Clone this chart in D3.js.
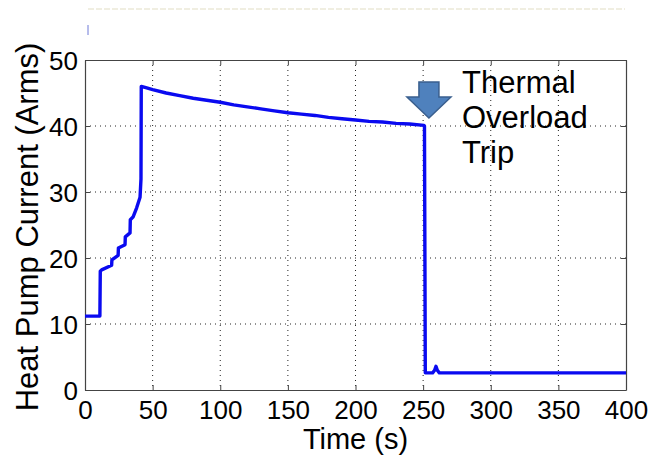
<!DOCTYPE html>
<html><head><meta charset="utf-8">
<script src="https://cdn.jsdelivr.net/npm/d3@7"></script>
<style>
body{margin:0;background:#fff;}
text{font-family:"Liberation Sans",Arial,sans-serif;fill:#000;}
</style></head>
<body><svg id="chart" width="651" height="457"></svg>
<script>
// ---- data ----
const timeS = [0, 11, 11.3, 12.3, 19.7, 19.9, 24.5, 24.7, 29.6, 29.8, 33.3, 33.5, 35.5, 38.2, 40.7, 41.4, 41.6,
  45, 50, 60, 70, 80, 90, 100, 110, 120, 130, 140, 150, 160, 170, 180, 190, 200, 210, 220, 230, 240, 250.6,
  251.0, 251.6, 257, 258.5, 259.5, 260.5, 262, 300, 350, 400];
const currentA = [11.2, 11.2, 18.0, 18.2, 18.9, 19.7, 20.4, 21.5, 22.0, 23.2, 23.8, 25.8, 26.2, 27.6, 29.2, 32.0, 46.0,
  45.8, 45.5, 45.0, 44.6, 44.2, 43.9, 43.6, 43.2, 42.9, 42.6, 42.3, 42.0, 41.8, 41.6, 41.3, 41.1, 40.9, 40.7, 40.6, 40.4, 40.3, 40.1,
  40.0, 2.6, 2.6, 3.0, 3.6, 3.0, 2.6, 2.6, 2.6, 2.6];
const xTicks = [0, 50, 100, 150, 200, 250, 300, 350, 400];
const yTicks = [0, 10, 20, 30, 40, 50];
const annotationLines = ["Thermal", "Overload", "Trip"];
const xLabel = "Time (s)";
const yLabel = "Heat Pump Current (Arms)";

const svg = d3.select("#chart");
const L = 85, R = 626, T = 60, B = 390;
const x = d3.scaleLinear().domain([0, 400]).range([L, R]);
const y = d3.scaleLinear().domain([0, 50]).range([B, T]);

// faint artifacts at the top
svg.append("line").attr("x1", 88).attr("x2", 625).attr("y1", 9).attr("y2", 9)
  .attr("stroke", "#ebe9d8").attr("stroke-width", 1.5).attr("stroke-dasharray", "6,2");
svg.append("line").attr("x1", 88).attr("x2", 88).attr("y1", 25).attr("y2", 35)
  .attr("stroke", "#6f7bd8").attr("stroke-width", 1);

// grid
const grid = svg.append("g");
grid.selectAll(".gx").data(xTicks.slice(1, -1)).join("line")
  .attr("x1", d => x(d)).attr("x2", d => x(d)).attr("y1", T).attr("y2", B)
  .attr("stroke", "#222").attr("stroke-width", 1).attr("stroke-dasharray", "1,4");
grid.selectAll(".gy").data(yTicks.slice(1, -1)).join("line")
  .attr("x1", L).attr("x2", R).attr("y1", d => y(d)).attr("y2", d => y(d))
  .attr("stroke", "#222").attr("stroke-width", 1).attr("stroke-dasharray", "1,4");

// axes
const tickSize = 5;
const xAxisB = svg.append("g").attr("transform", `translate(0,${B})`)
  .call(d3.axisBottom(x).tickValues(xTicks).tickSize(-tickSize).tickPadding(11).tickSizeOuter(0));
const xAxisT = svg.append("g").attr("transform", `translate(0,${T})`)
  .call(d3.axisTop(x).tickValues(xTicks).tickSize(-tickSize).tickFormat("").tickSizeOuter(0));
const yAxisL = svg.append("g").attr("transform", `translate(${L},0)`)
  .call(d3.axisLeft(y).tickValues(yTicks).tickSize(-tickSize).tickPadding(7).tickSizeOuter(0));
const yAxisR = svg.append("g").attr("transform", `translate(${R},0)`)
  .call(d3.axisRight(y).tickValues(yTicks).tickSize(-tickSize).tickFormat("").tickSizeOuter(0));
[xAxisB, xAxisT, yAxisL, yAxisR].forEach(g => {
  g.select(".domain").attr("stroke", "#444").attr("stroke-width", 1.2);
  g.selectAll(".tick line").attr("stroke", "#444");
  g.selectAll("text").attr("font-family", "Liberation Sans, Arial, sans-serif").attr("font-size", 26).attr("fill", "#000");
});
yAxisL.selectAll("text").attr("dy", "0.36em");

// line
const line = d3.line().x((d, i) => x(timeS[i])).y(d => y(d));
svg.append("path").datum(currentA).attr("d", line)
  .attr("fill", "none").attr("stroke", "#0a0af0").attr("stroke-width", 3.4)
  .attr("stroke-linejoin", "round");

// arrow
const ax = x(250.6) + 5, ay = y(40.3) - 6;
const arrow = [[ax - 10, ay - 36], [ax + 10, ay - 36], [ax + 10, ay - 21], [ax + 22, ay - 21],
  [ax, ay], [ax - 22, ay - 21], [ax - 10, ay - 21]];
svg.append("polygon").attr("points", arrow.map(p => p.join(",")).join(" "))
  .attr("fill", "#4f81bd").attr("stroke", "#3a5f8e").attr("stroke-width", 1.5);

// annotation text
svg.append("text").attr("x", 462).attr("y", 93).attr("font-size", 31)
  .selectAll("tspan").data(annotationLines).join("tspan")
  .attr("x", 462).attr("dy", (d, i) => i === 0 ? 0 : 35).text(d => d);

// axis labels
svg.append("text").attr("x", (L + R) / 2).attr("y", 449).attr("text-anchor", "middle")
  .attr("font-size", 29).text(xLabel);
svg.append("text").attr("transform", `translate(38,${(T + B) / 2 + 2}) rotate(-90)`)
  .attr("text-anchor", "middle").attr("font-size", 31).text(yLabel);
</script></body></html>
